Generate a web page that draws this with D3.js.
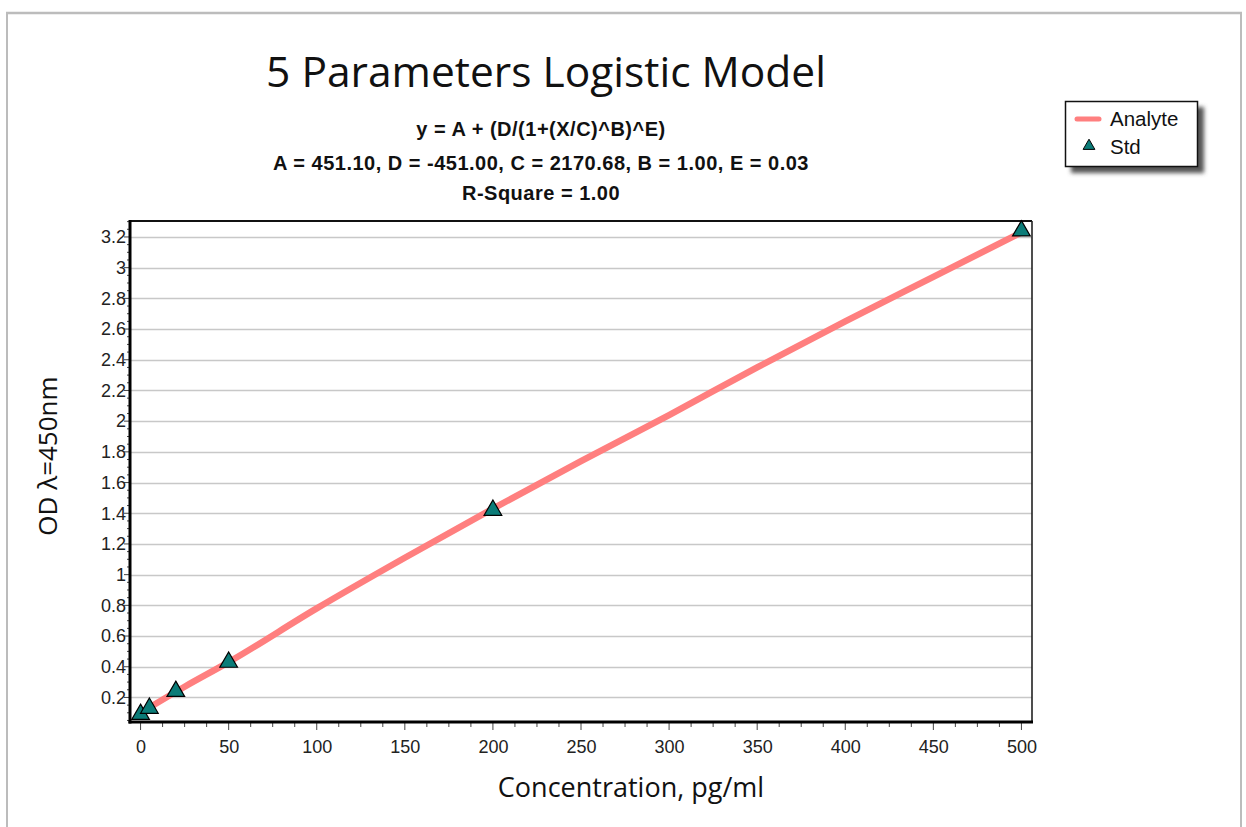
<!DOCTYPE html>
<html>
<head>
<meta charset="utf-8">
<script src="https://cdn.jsdelivr.net/npm/d3@7"></script>
<style>
  html, body { margin: 0; padding: 0; background: #fff; }
  svg { display: block; }
</style>
</head>
<body>
<svg id="chart" width="1246" height="827"></svg>
<script>
// ---- data ----
const stdConc = [0, 5, 20, 50, 200, 500];
const stdOD   = [0.09, 0.13, 0.24, 0.43, 1.42, 3.24];
const curveConc = [0, 25, 50, 100, 150, 200, 250, 300, 350, 400, 450, 500];
const curveOD   = [0.10, 0.27, 0.43, 0.78, 1.11, 1.43, 1.74, 2.04, 2.35, 2.65, 2.94, 3.23];
const yTicks = [0.2, 0.4, 0.6, 0.8, 1, 1.2, 1.4, 1.6, 1.8, 2, 2.2, 2.4, 2.6, 2.8, 3, 3.2];
const xTicks = [0, 50, 100, 150, 200, 250, 300, 350, 400, 450, 500];
const titleText = "5 Parameters Logistic Model";
const eqLines = [
  "y = A + (D/(1+(X/C)^B)^E)",
  "A = 451.10, D = -451.00, C = 2170.68, B = 1.00, E = 0.03",
  "R-Square = 1.00"
];
const xLabel = "Concentration, pg/ml";
const yLabel = "OD \u03bb=450nm";
const legendItems = ["Analyte", "Std"];

// ---- layout ----
const svg = d3.select("#chart");
const L = 130, R = 1032, T = 221, B = 722;
const x = d3.scaleLinear().domain([-6, 506]).range([L, R]);
const y = d3.scaleLinear().domain([0.04, 3.304]).range([B, T]);
const lineColor = "#ff7f7f";
const triFill = "#0b7c78";
const tickFont = "'Liberation Sans', Arial, sans-serif";
const labelFont = "'Open Sans', sans-serif";

// outer frame
svg.append("line").attr("x1", 6).attr("x2", 1242).attr("y1", 13).attr("y2", 13)
  .attr("stroke", "#bcbcbc").attr("stroke-width", 2.5);
svg.append("line").attr("x1", 7).attr("x2", 7).attr("y1", 12).attr("y2", 827)
  .attr("stroke", "#bcbcbc").attr("stroke-width", 2);
svg.append("line").attr("x1", 1241).attr("x2", 1241).attr("y1", 12).attr("y2", 827)
  .attr("stroke", "#bcbcbc").attr("stroke-width", 2);

// title
svg.append("text").attr("x", 546).attr("y", 87).attr("text-anchor", "middle")
  .attr("font-family", labelFont).attr("font-size", 42.5)
  .attr("fill", "#111").text(titleText);

// equation
svg.selectAll("text.eq").data(eqLines).join("text").attr("class", "eq")
  .attr("x", 541).attr("y", (d, i) => [136, 170, 200][i])
  .attr("text-anchor", "middle")
  .attr("font-family", tickFont).attr("font-weight", "bold")
  .attr("font-size", 20).attr("letter-spacing", 0.5).attr("fill", "#111").text(d => d);

// gridlines
svg.append("g").selectAll("line").data(yTicks).join("line")
  .attr("x1", L).attr("x2", R).attr("y1", d => Math.round(y(d)) + 0.5).attr("y2", d => Math.round(y(d)) + 0.5)
  .attr("stroke", "#c8c8c8").attr("stroke-width", 1.5);

// x axis ticks
const xMinor = d3.range(0, 501, 12.5);
svg.append("g").selectAll("line").data(xMinor).join("line")
  .attr("x1", d => x(d)).attr("x2", d => x(d))
  .attr("y1", B).attr("y2", d => B + (d % 50 === 0 ? 8 : 5))
  .attr("stroke", "#444").attr("stroke-width", 1);
const xAxis = d3.axisBottom(x).tickValues(xTicks).tickSize(0).tickPadding(0).tickFormat(d3.format("d"));
const gx = svg.append("g").attr("transform", `translate(0,${B + 18})`).call(xAxis);
gx.select(".domain").remove();
gx.selectAll("text").attr("font-family", tickFont)
  .attr("font-size", 18).attr("fill", "#222").attr("dy", "0.71em");

// y axis ticks
const yMinor = d3.range(0.05, 3.301, 0.05);
svg.append("g").selectAll("line").data(yMinor).join("line")
  .attr("x1", L).attr("x2", d => L - (Math.abs(Math.round(d * 100) % 20) === 0 ? 6 : 3))
  .attr("y1", d => y(d)).attr("y2", d => y(d))
  .attr("stroke", "#444").attr("stroke-width", 1);
const yAxis = d3.axisLeft(y).tickValues(yTicks).tickSize(0).tickPadding(0).tickFormat(d3.format("~g"));
const gy = svg.append("g").attr("transform", `translate(${L - 4},0)`).call(yAxis);
gy.select(".domain").remove();
gy.selectAll("text").attr("font-family", tickFont)
  .attr("font-size", 18).attr("fill", "#222");

// curve
const lineGen = d3.line().x((d, i) => x(curveConc[i])).y(d => y(d)).curve(d3.curveMonotoneX);
svg.append("clipPath").attr("id", "pc").append("rect")
  .attr("x", L).attr("y", T).attr("width", R - L).attr("height", B - T);
svg.append("path").datum(curveOD).attr("d", lineGen)
  .attr("fill", "none").attr("stroke", lineColor).attr("stroke-width", 6.5)
  .attr("clip-path", "url(#pc)");

// plot border
svg.append("line").attr("x1", L).attr("x2", R).attr("y1", T).attr("y2", T).attr("stroke", "#111").attr("stroke-width", 2);
svg.append("line").attr("x1", R).attr("x2", R).attr("y1", T).attr("y2", B).attr("stroke", "#222").attr("stroke-width", 1.6);
svg.append("line").attr("x1", L).attr("x2", L).attr("y1", T - 1).attr("y2", B + 1.5).attr("stroke", "#000").attr("stroke-width", 3);
svg.append("line").attr("x1", L - 1.5).attr("x2", R + 1).attr("y1", B).attr("y2", B).attr("stroke", "#000").attr("stroke-width", 3);

// triangles
const tri = d3.symbol().type(d3.symbolTriangle).size(135);
svg.append("g").selectAll("path").data(stdOD).join("path")
  .attr("d", tri)
  .attr("transform", (d, i) => `translate(${x(stdConc[i])},${y(d)})`)
  .attr("fill", triFill).attr("stroke", "#000").attr("stroke-width", 1.2);

// axis labels
svg.append("text").attr("x", 631).attr("y", 797).attr("text-anchor", "middle")
  .attr("font-family", labelFont).attr("font-size", 27)
  .attr("fill", "#111").text(xLabel);
svg.append("text").attr("transform", "translate(57,456) rotate(-90)").attr("text-anchor", "middle")
  .attr("font-family", labelFont).attr("font-size", 26)
  .attr("fill", "#111").text(yLabel);

// legend
const defs = svg.append("defs");
const f = defs.append("filter").attr("id", "blur").attr("x", "-20%").attr("y", "-20%").attr("width", "140%").attr("height", "140%");
f.append("feGaussianBlur").attr("stdDeviation", 2);
svg.append("rect").attr("x", 1071).attr("y", 107).attr("width", 133).attr("height", 66)
  .attr("fill", "#555").attr("filter", "url(#blur)");
svg.append("rect").attr("x", 1065.5).attr("y", 101.5).attr("width", 132).attr("height", 65)
  .attr("fill", "#fff").attr("stroke", "#111").attr("stroke-width", 1.5);
svg.append("line").attr("x1", 1077).attr("x2", 1099).attr("y1", 119).attr("y2", 119)
  .attr("stroke", lineColor).attr("stroke-width", 5).attr("stroke-linecap", "round");
svg.append("path").attr("d", d3.symbol().type(d3.symbolTriangle).size(60))
  .attr("transform", "translate(1089,146)").attr("fill", triFill).attr("stroke", "#000").attr("stroke-width", 1);
svg.selectAll("text.leg").data(legendItems).join("text").attr("class", "leg")
  .attr("x", 1110).attr("y", (d, i) => [126, 154][i])
  .attr("font-family", tickFont).attr("font-size", 20.5)
  .attr("fill", "#111").text(d => d);
</script>
</body>
</html>
